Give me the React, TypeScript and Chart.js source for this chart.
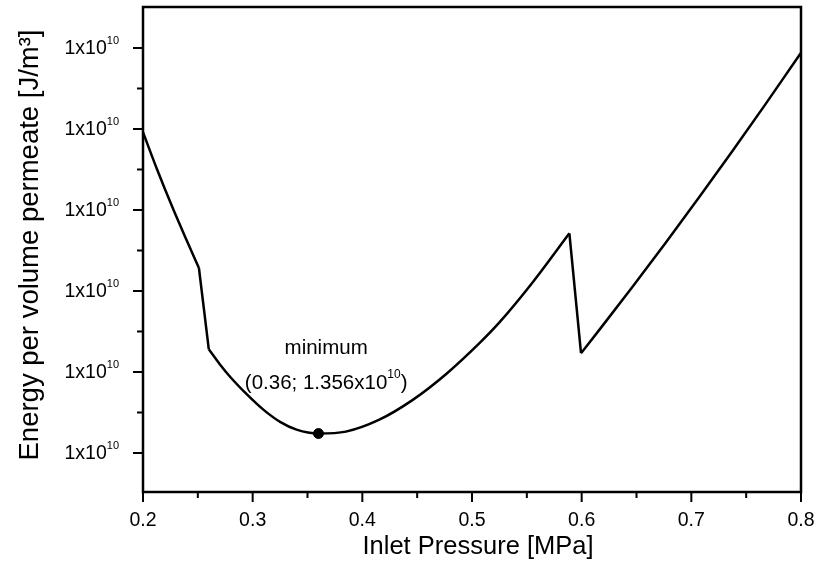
import React, { useEffect, useRef } from 'react';
import { Chart, registerables } from 'chart.js';

Chart.register(...registerables);

// Inlet pressure [MPa]
const pressure = [
  0.2, 0.2125, 0.2276, 0.24, 0.251, 0.26, 0.27, 0.28, 0.295, 0.31, 0.325, 0.34, 0.36,
  0.385, 0.415, 0.446, 0.4765, 0.5068, 0.525, 0.5554, 0.5888, 0.5994, 0.6161, 0.6464,
  0.6768, 0.7071, 0.7375, 0.7675, 0.7967, 0.8,
];
// Energy per volume permeate [J/m3]
const energy = [
  1.449e10, 1.4378e10, 1.4252e10, 1.4155e10, 1.4071e10, 1.382e10, 1.3774e10, 1.3733e10,
  1.368e10, 1.3633e10, 1.3596e10, 1.3572e10, 1.356e10, 1.3566e10, 1.3602e10, 1.3664e10,
  1.3744e10, 1.3839e10, 1.3903e10, 1.4027e10, 1.4178e10, 1.3808e10, 1.388e10, 1.4013e10,
  1.415e10, 1.4289e10, 1.4432e10, 1.4576e10, 1.4719e10, 1.4735e10,
];
// indices where the curve has a corner (0.25, 0.26, 0.59, 0.60 MPa)
const cornerIdx = [0, 4, 5, 20, 21, 29];

const minPressure = 0.36;
const minEnergy = 1.356e10;

const xMajorTicks = [0.2, 0.3, 0.4, 0.5, 0.6, 0.7, 0.8];
const xMinorTicks = [0.25, 0.35, 0.45, 0.55, 0.65, 0.75];
const yMajorTicks = [1.35e10, 1.375e10, 1.4e10, 1.425e10, 1.45e10, 1.475e10];
const yMinorTicks = [1.3625e10, 1.3875e10, 1.4125e10, 1.4375e10, 1.4625e10];

const FONT = '"Liberation Sans", Arial, sans-serif';

// where the "minimum" note sits, in data units
const noteX = 0.367;
const noteLine1Y = 1.3824e10;
const noteLine2Y = 1.3716e10;

const drawSup = (
  ctx: CanvasRenderingContext2D,
  base: string,
  sup: string,
  rest: string,
  x: number,
  y: number,
  align: 'center' | 'right',
  size = 19.5,
) => {
  const supSize = Math.round(size * 0.57);
  ctx.font = `${size}px ${FONT}`;
  const wb = ctx.measureText(base).width;
  const wr = ctx.measureText(rest).width;
  ctx.font = `${supSize}px ${FONT}`;
  const ws = ctx.measureText(sup).width;
  const total = wb + ws + wr;
  const start = align === 'center' ? x - total / 2 : x - total;
  ctx.textAlign = 'left';
  ctx.textBaseline = 'middle';
  ctx.font = `${size}px ${FONT}`;
  ctx.fillText(base, start, y);
  if (rest) ctx.fillText(rest, start + wb + ws, y);
  ctx.font = `${supSize}px ${FONT}`;
  ctx.fillText(sup, start + wb, y - size * 0.41);
};

const framePlugin = {
  id: 'frame',
  afterDraw(chart: any) {
    const { ctx, chartArea: a, scales } = chart;
    const xs = scales.x;
    const ys = scales.y;
    ctx.save();
    ctx.strokeStyle = '#000';
    ctx.fillStyle = '#000';
    ctx.lineWidth = 2.5;
    ctx.strokeRect(a.left, a.top, a.right - a.left, a.bottom - a.top);

    ctx.lineWidth = 2;
    const tick = (x1: number, y1: number, x2: number, y2: number) => {
      ctx.beginPath();
      ctx.moveTo(x1, y1);
      ctx.lineTo(x2, y2);
      ctx.stroke();
    };
    xMajorTicks.forEach((v) => { const p = xs.getPixelForValue(v); tick(p, a.bottom, p, a.bottom + 10); });
    xMinorTicks.forEach((v) => { const p = xs.getPixelForValue(v); tick(p, a.bottom, p, a.bottom + 6); });
    yMajorTicks.forEach((v) => { const p = ys.getPixelForValue(v); tick(a.left, p, a.left - 10, p); });
    yMinorTicks.forEach((v) => { const p = ys.getPixelForValue(v); tick(a.left, p, a.left - 6, p); });

    // y tick labels: values all round to 1x10^10
    yMajorTicks.forEach((v) => {
      const p = ys.getPixelForValue(v);
      drawSup(ctx, '1x10', '10', '', a.left - 24, p + 1, 'right');
    });

    // axis titles
    ctx.font = `25.5px ${FONT}`;
    ctx.textAlign = 'center';
    ctx.textBaseline = 'middle';
    ctx.fillText('Inlet Pressure [MPa]', (a.left + a.right) / 2 + 6, 547);
    ctx.save();
    ctx.translate(30, 245);
    ctx.rotate(-Math.PI / 2);
    ctx.font = `27.5px ${FONT}`;
    ctx.fillText('Energy per volume permeate [J/m³]', 0, 0);
    ctx.restore();

    // note for the minimum
    const nx = xs.getPixelForValue(noteX);
    ctx.font = `20.5px ${FONT}`;
    ctx.textAlign = 'center';
    ctx.fillText('minimum', nx, ys.getPixelForValue(noteLine1Y));
    drawSup(ctx, '(0.36; 1.356x10', '10', ')', nx, ys.getPixelForValue(noteLine2Y), 'center', 20.5);
    ctx.restore();
  },
};

export default function App() {
  const canvasRef = useRef<HTMLCanvasElement>(null);

  useEffect(() => {
    const ctx = canvasRef.current?.getContext('2d');
    if (!ctx) return;

    // one smooth dataset per branch between corners
    const branches = cornerIdx.slice(0, -1).map((start, k) => ({
      data: pressure
        .slice(start, cornerIdx[k + 1] + 1)
        .map((p, i) => ({ x: p, y: energy[start + i] })),
      borderColor: '#000',
      borderWidth: 2.5,
      pointRadius: 0,
      cubicInterpolationMode: 'monotone' as const,
      fill: false,
    }));

    const chart = new Chart(ctx, {
      type: 'line',
      data: {
        datasets: [
          ...branches,
          {
            data: [{ x: minPressure, y: minEnergy }],
            showLine: false,
            pointRadius: 5,
            pointBackgroundColor: '#000',
            pointBorderColor: '#000',
          },
        ],
      },
      options: {
        animation: false,
        responsive: false,
        maintainAspectRatio: false,
        layout: { padding: { top: 7, right: 16, left: 0, bottom: 0 } },
        plugins: { legend: { display: false }, tooltip: { enabled: false } },
        scales: {
          x: {
            type: 'linear',
            min: 0.2,
            max: 0.8,
            grid: { display: false, drawTicks: false },
            border: { display: false },
            afterBuildTicks: (scale: any) => {
              scale.ticks = xMajorTicks.map((v) => ({ value: v }));
            },
            afterFit: (scale: any) => {
              scale.height = 79;
              scale.paddingLeft = 0;
              scale.paddingRight = 0;
            },
            ticks: {
              color: '#000',
              padding: 17,
              maxRotation: 0,
              font: { family: FONT, size: 19.5 },
              callback: (v: any) => Number(v).toFixed(1),
            },
          },
          y: {
            type: 'linear',
            min: 1.33796e10,
            max: 1.48765e10,
            grid: { display: false, drawTicks: false },
            border: { display: false },
            ticks: { display: false },
            afterFit: (scale: any) => {
              scale.width = 143;
            },
          },
        },
      },
      plugins: [framePlugin],
    });

    return () => chart.destroy();
  }, []);

  return (
    <div style={{ position: 'absolute', left: 0, top: 0, width: 817, height: 571, background: '#fff' }}>
      <canvas ref={canvasRef} width={817} height={571} />
    </div>
  );
}
